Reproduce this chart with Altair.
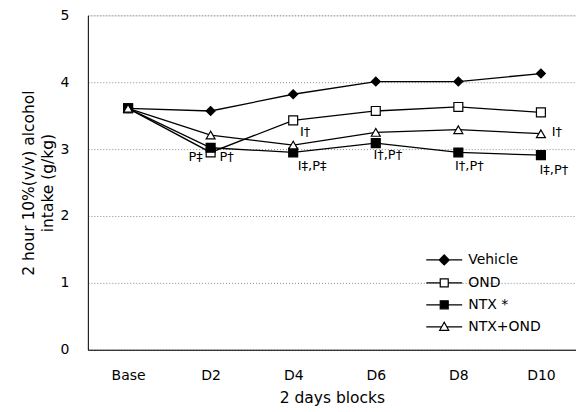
import altair as alt
import pandas as pd

blocks = ["Base", "D2", "D4", "D6", "D8", "D10"]
series_names = ["Vehicle", "OND", "NTX", "NTX+OND"]
vehicle = [3.61, 3.57, 3.82, 4.01, 4.01, 4.13]
ond = [3.61, 2.95, 3.43, 3.57, 3.63, 3.55]
ntx = [3.61, 3.02, 2.95, 3.09, 2.95, 2.91]
ntx_ond = [3.61, 3.21, 3.06, 3.25, 3.29, 3.23]

ann_block = ["D2", "D2", "D4", "D4", "D6", "D8", "D10", "D10"]
ann_value = [2.88, 2.88, 3.25, 2.75, 2.91, 2.75, 2.69, 3.25]
ann_text = ["P‡", "P†", "I†", "I‡,P‡", "I†,P†", "I†,P†", "I‡,P†", "I†"]
ann_dx = [-15, 16, 12, 19, 12, 11, 13, 16]

rows = []
for name, vals in zip(series_names, [vehicle, ond, ntx, ntx_ond]):
    for b, v in zip(blocks, vals):
        rows.append({"block": b, "value": v, "series": name})
df = pd.DataFrame(rows)
ann = pd.DataFrame({"block": ann_block, "value": ann_value, "text": ann_text, "dx": ann_dx})

FONT = "DejaVu Sans"
shapes = ["diamond", "square", "square", "triangle-up"]
fills = ["black", "white", "black", "white"]
strokes = ["black", "black", "black", "black"]
legend_paths = [
    "M-3.6,0H-1M1,0H3.6M-1,0L0,-1L1,0L0,1Z",
    "M-3.6,0H-0.8M0.8,0H3.6M-0.8,-0.8H0.8V0.8H-0.8Z",
    "M-3.6,0H-0.8M0.8,0H3.6M-0.8,-0.8H0.8V0.8H-0.8Z",
    "M-3.6,0H-0.5M0.5,0H3.6M-0.9,0.7L0,-0.9L0.9,0.7Z",
]

x_enc = alt.X("block:N", sort=blocks,
              scale=alt.Scale(type="point", domain=blocks, padding=0.456, align=0.534),
              axis=alt.Axis(title="2 days blocks", labelAngle=0, ticks=False,
                            labelPadding=19, titlePadding=8, domainColor="black",
                            labelFontSize=14, titleFontSize=15.5, labelColor="black",
                            titleColor="black", titleFontWeight="normal", grid=False,
                            labelFont=FONT, titleFont=FONT))
y_enc = alt.Y("value:Q", scale=alt.Scale(domain=[0, 5]),
              axis=alt.Axis(title=["2 hour 10%(v/v) alcohol", "intake (g/kg)"],
                            values=[0, 1, 2, 3, 4, 5], ticks=False, labelPadding=19,
                            titlePadding=5, titleLineHeight=19, domainColor="black", grid=True,
                            gridColor="#888888", gridDash=[1, 2], gridWidth=1,
                            labelFontSize=14, titleFontSize=15.5, labelColor="black",
                            titleColor="black", titleFontWeight="normal",
                            labelFont=FONT, titleFont=FONT))

legend_kw = dict(title=None, orient="none", legendX=350, legendY=238,
                 symbolSize=100, labelOffset=17, rowPadding=8,
                 labelFontSize=14, labelFont=FONT, labelColor="black",
                 symbolStrokeWidth=1.2,
                 labelExpr="datum.label == 'NTX' ? 'NTX  *' : datum.label")

base = alt.Chart(df)
lines = base.mark_line(color="black", strokeWidth=1.3).encode(
    x=x_enc, y=y_enc, detail="series:N")
points = base.mark_point(stroke="black", strokeWidth=1.2, opacity=1, size=80).encode(
    x=x_enc, y=y_enc,
    shape=alt.Shape("series:N", scale=alt.Scale(domain=series_names, range=shapes), legend=None),
    fill=alt.Fill("series:N", scale=alt.Scale(domain=series_names, range=fills), legend=None),
)
legend_layer = base.transform_filter("false").mark_point(
    strokeWidth=1.2, opacity=1).encode(
    x=x_enc, y=y_enc,
    stroke=alt.Stroke("series:N", scale=alt.Scale(domain=series_names, range=strokes),
                      legend=alt.Legend(**legend_kw)),
    shape=alt.Shape("series:N", scale=alt.Scale(domain=series_names, range=legend_paths),
                    legend=alt.Legend(**legend_kw)),
    fill=alt.Fill("series:N", scale=alt.Scale(domain=series_names, range=fills),
                  legend=alt.Legend(**legend_kw)),
)
texts = alt.Chart(ann).mark_text(font=FONT, fontSize=13, color="black").encode(
    x=x_enc, y=y_enc, text="text:N", xOffset=alt.XOffset("dx:Q", scale=None))

chart = alt.layer(lines, points, legend_layer, texts).resolve_scale(
    shape="independent", fill="independent", stroke="independent"
).properties(
    width=489, height=335, padding={"left": 13, "top": 0, "right": 0, "bottom": 0}
).configure_view(stroke=None).configure(background="white")

chart.save("out.html", embed_options={"renderer": "svg", "actions": False})
